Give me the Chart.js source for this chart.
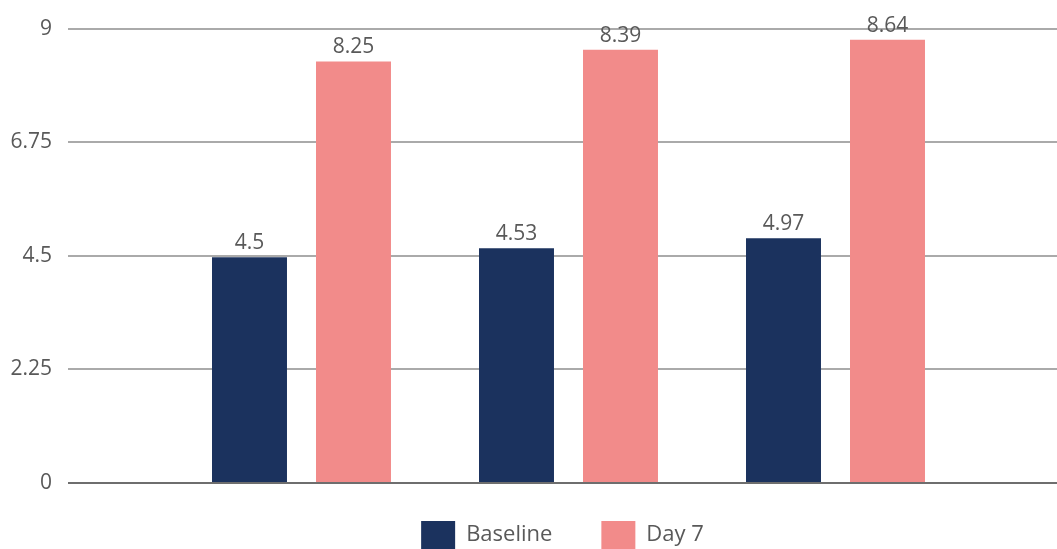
<!DOCTYPE html>
<html>
<head>
<meta charset="utf-8">
<script src="https://cdn.jsdelivr.net/npm/chart.js@4"></script>
<style>
  html, body { margin: 0; padding: 0; background: #fff; }
  #wrap { width: 1057px; height: 549px; }
</style>
</head>
<body>
<div id="wrap"><canvas id="myChart"></canvas></div>
<script>
// values
const groupPositions = [1, 2, 3];
const baselineValues = [4.47, 4.65, 4.85];
const day7Values = [8.35, 8.58, 8.78];
const baselineLabels = ['4.5', '4.53', '4.97'];
const day7Labels = ['8.25', '8.39', '8.64'];
const yTicks = [0, 2.25, 4.5, 6.75, 9];
const seriesNames = ['Baseline', 'Day 7'];

const textColor = '#595959';
const fontFamily = "'Open Sans', sans-serif";

const toPoints = (vals) => vals.map((v, i) => ({ x: groupPositions[i], y: v }));

// write the value text above each bar
const barLabels = {
    id: 'barLabels',
    afterDatasetsDraw(chart) {
        const ctx = chart.ctx;
        const texts = [baselineLabels, day7Labels];
        ctx.save();
        ctx.font = '21px ' + fontFamily;
        ctx.fillStyle = textColor;
        ctx.textAlign = 'center';
        ctx.textBaseline = 'alphabetic';
        chart.data.datasets.forEach((ds, d) => {
            chart.getDatasetMeta(d).data.forEach((bar, i) => {
                ctx.fillText(texts[d][i], bar.x, bar.y - 8);
            });
        });
        ctx.restore();
    }
};

// legend is centred under the plot area and sits a little higher
const legendNudge = {
    id: 'legendNudge',
    afterLayout(chart) {
        chart.legend.top -= 11;
        chart.legend.left = chart.chartArea.left;
    }
};

var ctx = document.querySelector('#myChart');
var myChart = new Chart(ctx, {
    type: 'bar',
    data: {
        datasets: [{
            label: seriesNames[0],
            data: toPoints(baselineValues),
            backgroundColor: '#1B325E'
        }, {
            label: seriesNames[1],
            data: toPoints(day7Values),
            backgroundColor: '#F28B8A'
        }]
    },
    options: {
        responsive: true,
        maintainAspectRatio: false,
        animation: false,
        layout: { padding: { top: 28, right: 0, left: 0, bottom: -21 } },
        datasets: {
            bar: { categoryPercentage: 0.779, barPercentage: 0.721 }
        },
        scales: {
            x: {
                type: 'linear',
                display: false,
                offset: false,
                min: 0.1255,
                max: 3.8296,
                ticks: { stepSize: 1, includeBounds: false }
            },
            y: {
                min: 0,
                max: 9,
                afterBuildTicks: (scale) => { scale.ticks = yTicks.map(v => ({ value: v })); },
                afterFit: (scale) => { scale.width = 68; },
                border: { display: false },
                grid: {
                    drawTicks: false,
                    lineWidth: 2,
                    color: (c) => c.tick && c.tick.value === 0 ? '#6E6E6E' : '#AAAAAA'
                },
                ticks: {
                    padding: 16,
                    color: textColor,
                    font: { family: fontFamily, size: 21 },
                    callback: (v) => String(v)
                }
            }
        },
        plugins: {
            tooltip: { enabled: false },
            legend: {
                position: 'bottom',
                labels: {
                    boxWidth: 34,
                    boxHeight: 28,
                    padding: 49,
                    color: textColor,
                    font: { family: fontFamily, size: 22 }
                }
            }
        }
    },
    plugins: [barLabels, legendNudge]
});
</script>
</body>
</html>
